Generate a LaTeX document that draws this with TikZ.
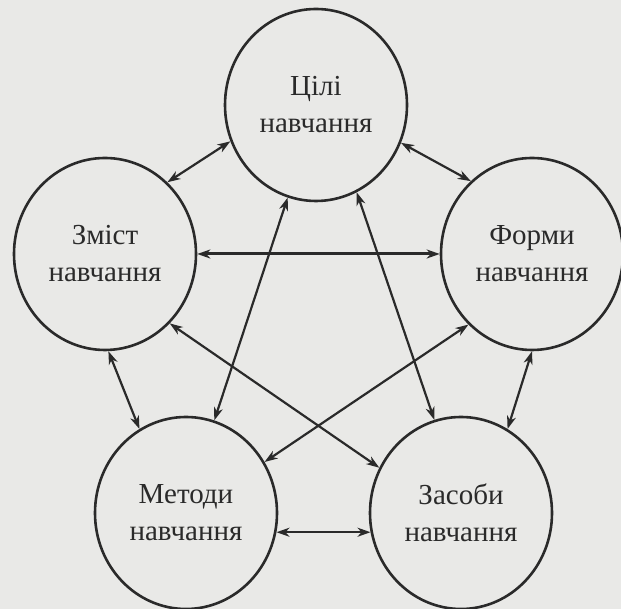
\documentclass[tikz,border=0pt]{standalone}
\usepackage{fontspec}
\setmainfont{Liberation Serif}
\usetikzlibrary{shapes.geometric,arrows.meta}
\definecolor{paper}{HTML}{E9E9E7}
\definecolor{ink}{HTML}{2A2A2A}
\begin{document}
\begin{tikzpicture}[x=1pt,y=1pt,
  blob/.style={ellipse,draw=ink,line width=2.6pt,minimum width=182pt,minimum height=192pt,inner sep=0pt,align=center,text=ink,font=\fontsize{29}{37}\selectfont},
  conn/.style={draw=ink,line width=2.2pt,{Stealth[length=13pt,width=9pt,inset=4pt]}-{Stealth[length=13pt,width=9pt,inset=4pt]}},
  thick conn/.style={conn,line width=3pt}]
\fill[paper] (0,0) rectangle (621,609);
\useasboundingbox (0,0) rectangle (621,609);
\node[blob] (T)  at (316,504) {Цілі\\навчання};
\node[blob] (L)  at (105,355) {Зміст\\навчання};
\node[blob] (R)  at (532,355) {Форми\\навчання};
\node[blob] (BL) at (186,96)  {Методи\\навчання};
\node[blob] (BR) at (461,96)  {Засоби\\навчання};
\draw[conn] (T.203) -- (L.49);
\draw[conn] (T.336) -- (R.130);
\draw[thick conn] (L.0) -- (R.180);
\draw[conn] (T.253) -- (BL.73);
\draw[conn] (T.295) -- (BR.106);
\draw[conn] (L.272) -- (BL.119);
\draw[conn] (R.270) -- (BR.61);
\draw[conn] (L.313) -- (BR.151);
\draw[conn] (R.228) -- (BL.33);
\draw[conn] (BL.-12) -- (BR.192);
\end{tikzpicture}
\end{document}
